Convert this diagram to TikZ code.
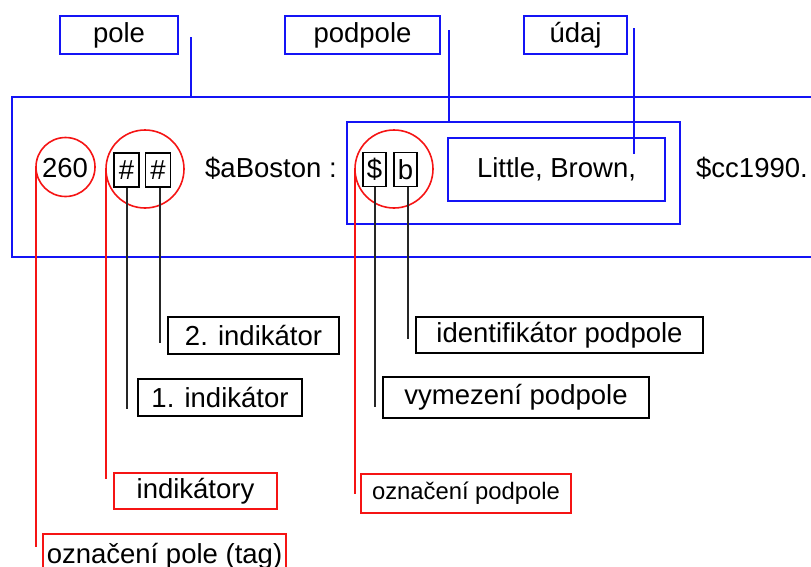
\documentclass[tikz,border=0pt]{standalone}
\usepackage{fontspec}
\setmainfont{Liberation Sans}
\definecolor{lineblue}{RGB}{20,20,245}
\definecolor{linered}{RGB}{245,20,20}
\begin{document}
\begin{tikzpicture}[x=1pt,y=-1pt,
  every node/.style={font=\fontsize{27.5pt}{33pt}\selectfont, inner sep=0pt, text=black},
  bluebox/.style={draw=lineblue, line width=1.8pt, minimum height=38pt},
  blueline/.style={draw=lineblue, line width=2pt},
  charbox/.style={draw=black, line width=1.6pt, minimum width=24pt, minimum height=34pt},
  blackbox/.style={draw=black, line width=1.6pt, minimum height=37pt},
  blackline/.style={draw=black!85, line width=2pt},
  redbox/.style={draw=linered, line width=1.6pt, minimum height=37pt},
  redline/.style={draw=linered, line width=2pt},
  ring/.style={circle, draw=linered, line width=1.6pt, outer sep=0pt}
]
\useasboundingbox (0,0) rectangle (811,566);

% top captions
\node[bluebox, minimum width=118pt] (pole) at (119,35) {pole};
\node[bluebox, minimum width=155pt] (podpole) at (362.5,35) {podpole};
\node[bluebox, minimum width=103pt] (udaj) at (575.5,35) {údaj};

% field, subfield and data frames
\node[bluebox, minimum width=818pt, minimum height=160pt] (field) at (421,177) {};
\node[bluebox, minimum width=333pt, minimum height=102pt] (subfield) at (513.5,173) {};
\node[bluebox, minimum width=217pt, minimum height=63pt] (data) at (556.5,169.5) {Little, Brown,};

% record content
\node[anchor=base] (tag) at (65,177) {260};
\node[charbox, minimum width=25pt] (h1) at (126.5,170) {\#};
\node[charbox, minimum width=25pt] (h2) at (158,170) {\#};
\node[anchor=base west] (boston) at (205,177) {\$aBoston :};
\node[charbox, minimum width=23pt] (dlr) at (374.5,169.5) {\$};
\node[charbox, minimum width=23pt] (code) at (405.5,169.5) {b};
\node[anchor=base west] (year) at (696,177) {\$cc1990.};

% red rings
\node[ring, minimum size=59pt] (tagring) at (65.5,167) {};
\node[ring, minimum size=78pt] (indring) at (145,169) {};
\node[ring, minimum size=78pt] (subring) at (394,169) {};

% explanation labels
\node[blackbox, minimum width=171pt] (ind2) at (253.5,335.5) {2. indikátor};
\node[blackbox, minimum width=164pt] (ind1) at (220,397.5) {1. indikátor};
\node[blackbox, minimum width=287pt, minimum height=36pt] (ident) at (559.5,335) {identifikátor podpole};
\node[blackbox, minimum width=266pt, minimum height=41pt] (delim) at (516,397.5) {vymezení podpole};
\node[redbox, minimum width=163pt, minimum height=36pt] (inds) at (195.5,491) {indikátory};
\node[redbox, minimum width=210pt, minimum height=39pt, font=\fontsize{23.8pt}{28pt}\selectfont] (subcode) at (466,493.5) {označení podpole};
\node[redbox, minimum width=243pt, minimum height=44pt] (tagl) at (164.5,556) {označení pole (tag)};

% free ends of the connectors
\coordinate (poleTop) at (191,37);
\coordinate (podpoleTop) at (449,30);
\coordinate (udajTop) at (634,28);
\coordinate (udajEnd) at (634,154);
\coordinate (h1End) at (127,409);
\coordinate (h2End) at (160,343);
\coordinate (dlrEnd) at (375,407);
\coordinate (codeEnd) at (408,339);
\coordinate (tagEnd) at (36,547);
\coordinate (indEnd) at (106,479);
\coordinate (subEnd) at (355,494);

% blue connectors
\draw[blueline] (poleTop) -- (poleTop |- field.north);
\draw[blueline] (podpoleTop) -- (podpoleTop |- subfield.north);
\draw[blueline] (udajTop) -- (udajEnd);

% black connectors
\draw[blackline] (h1End |- h1.south) -- (h1End);
\draw[blackline] (h2End |- h2.south) -- (h2End);
\draw[blackline] (dlrEnd |- dlr.south) -- (dlrEnd);
\draw[blackline] (codeEnd |- code.south) -- (codeEnd);

% red connectors
\draw[redline] (tagring.west) -- (tagring.west |- tagEnd);
\draw[redline] (indring.west) -- (indring.west |- indEnd);
\draw[redline] (subring.west) -- (subring.west |- subEnd);
\end{tikzpicture}
\end{document}
